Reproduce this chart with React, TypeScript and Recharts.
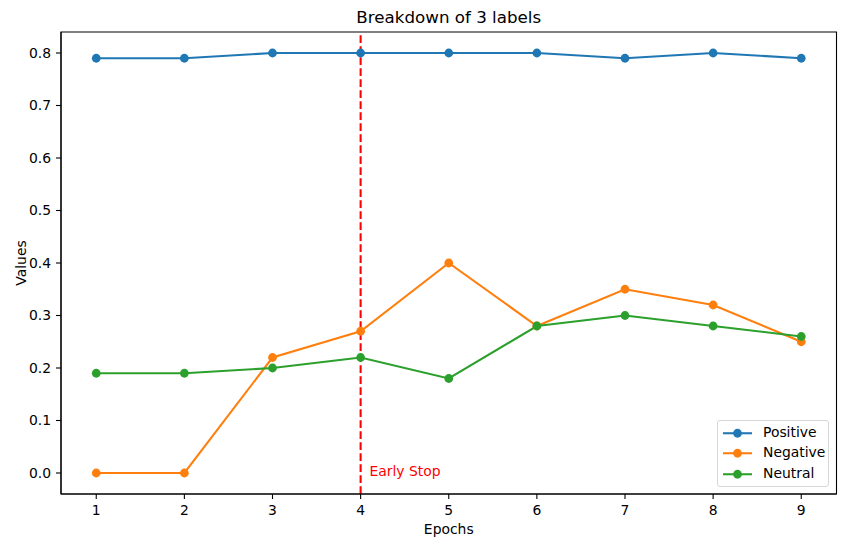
import React from 'react';
import {
  LineChart,
  Line,
  XAxis,
  YAxis,
  ReferenceLine,
  ReferenceDot,
  ReferenceArea,
  Legend,
} from 'recharts';

const epochs = [1, 2, 3, 4, 5, 6, 7, 8, 9];
const positive = [0.79, 0.79, 0.8, 0.8, 0.8, 0.8, 0.79, 0.8, 0.79];
const negative = [0.0, 0.0, 0.22, 0.27, 0.4, 0.28, 0.35, 0.32, 0.25];
const neutral = [0.19, 0.19, 0.2, 0.22, 0.18, 0.28, 0.3, 0.28, 0.26];

const yTicks = [0, 0.1, 0.2, 0.3, 0.4, 0.5, 0.6, 0.7, 0.8];
const xDomain = [0.6, 9.4];
const yDomain = [-0.04, 0.84];
const earlyStopEpoch = 4;

const FONT = '"DejaVu Sans", sans-serif';
const tickStyle = { fontSize: 13.9, fill: '#000', fontFamily: FONT };

const series = [
  { key: 'Positive', color: '#1f77b4', values: positive },
  { key: 'Negative', color: '#ff7f0e', values: negative },
  { key: 'Neutral', color: '#2ca02c', values: neutral },
];

const data = epochs.map((epoch, i) => {
  const row: Record<string, number> = { epoch };
  series.forEach((s) => {
    row[s.key] = s.values[i];
  });
  return row;
});

// matplotlib-style legend box, keeps the series order
function LegendBox() {
  return (
    <div
      style={{
        border: '1px solid #d6d6d6',
        borderRadius: 3,
        background: 'rgba(255,255,255,0.8)',
        padding: '1.5px 0 0 5px',
        boxSizing: 'border-box',
        width: 112,
        height: 67,
        fontFamily: FONT,
        fontSize: 13.9,
        color: '#000',
      }}
    >
      {series.map((s) => (
        <div key={s.key} style={{ display: 'flex', alignItems: 'center', height: 20.5 }}>
          <svg width={29} height={20.5}>
            <line x1={0} x2={29} y1={10.25} y2={10.25} stroke={s.color} strokeWidth={2.08} />
            <circle cx={14.5} cy={10.25} r={4.4} fill={s.color} />
          </svg>
          <span style={{ marginLeft: 11, lineHeight: 1 }}>{s.key}</span>
        </div>
      ))}
    </div>
  );
}

export default function App() {
  return (
    <div style={{ position: 'absolute', left: 0, top: 0, width: 846, height: 547, background: '#fff' }}>
      <LineChart
        width={846}
        height={547}
        data={data}
        margin={{ top: 32, right: 9.5, bottom: 0, left: 0 }}
      >
        <XAxis
          dataKey="epoch"
          type="number"
          domain={xDomain}
          ticks={epochs}
          allowDataOverflow
          height={53}
          tick={tickStyle}
          tickSize={5}
          tickMargin={6}
          stroke="#000"
          strokeWidth={1.1}
          label={(props: any) => {
            const vb = props.viewBox;
            return (
              <text
                x={vb.x + vb.width / 2}
                y={vb.y + 40}
                textAnchor="middle"
                fontSize={13.9}
                fontFamily={FONT}
                fill="#000"
              >
                Epochs
              </text>
            );
          }}
        />
        <YAxis
          type="number"
          domain={yDomain}
          ticks={yTicks}
          allowDataOverflow
          width={61}
          tick={tickStyle}
          tickSize={5}
          tickMargin={5}
          tickFormatter={(v: number) => v.toFixed(1)}
          stroke="#000"
          strokeWidth={1.1}
          label={(props: any) => {
            const vb = props.viewBox;
            const x = vb.x + 26;
            const y = vb.y + vb.height / 2;
            return (
              <text
                x={x}
                y={y}
                transform={`rotate(-90, ${x}, ${y})`}
                textAnchor="middle"
                fontSize={13.9}
                fontFamily={FONT}
                fill="#000"
              >
                Values
              </text>
            );
          }}
        />
        <ReferenceLine
          x={earlyStopEpoch}
          stroke="#ff0000"
          strokeWidth={2.08}
          strokeDasharray="7.7 3.3"
        />
        {series.map((s) => (
          <Line
            key={s.key}
            dataKey={s.key}
            name={s.key}
            stroke={s.color}
            strokeWidth={2.08}
            dot={{ r: 4.4, fill: s.color, stroke: s.color, strokeWidth: 0 }}
            activeDot={false}
            isAnimationActive={false}
          />
        ))}
        <ReferenceDot
          x={earlyStopEpoch + 0.1}
          y={0}
          r={0}
          fill="none"
          stroke="none"
          label={(props: any) => {
            const vb = props.viewBox;
            return (
              <text x={vb.x} y={vb.y + 3} fontSize={13.9} fontFamily={FONT} fill="#ff0000">
                Early Stop
              </text>
            );
          }}
        />
        {/* axes frame + title */}
        <ReferenceArea
          x1={xDomain[0]}
          x2={xDomain[1]}
          y1={yDomain[0]}
          y2={yDomain[1]}
          fill="none"
          fillOpacity={0}
          stroke="#000"
          strokeWidth={1.1}
          strokeOpacity={1}
          ifOverflow="visible"
          label={(props: any) => {
            const vb = props.viewBox;
            return (
              <text
                x={vb.x + vb.width / 2}
                y={vb.y - 9}
                textAnchor="middle"
                fontSize={16.7}
                fontFamily={FONT}
                fill="#000"
              >
                Breakdown of 3 labels
              </text>
            );
          }}
        />
        <Legend
          layout="vertical"
          align="center"
          verticalAlign="middle"
          content={<LegendBox />}
          wrapperStyle={{ left: 717, top: 420, width: 112, height: 67, bottom: 'auto', right: 'auto' }}
        />
      </LineChart>
    </div>
  );
}
